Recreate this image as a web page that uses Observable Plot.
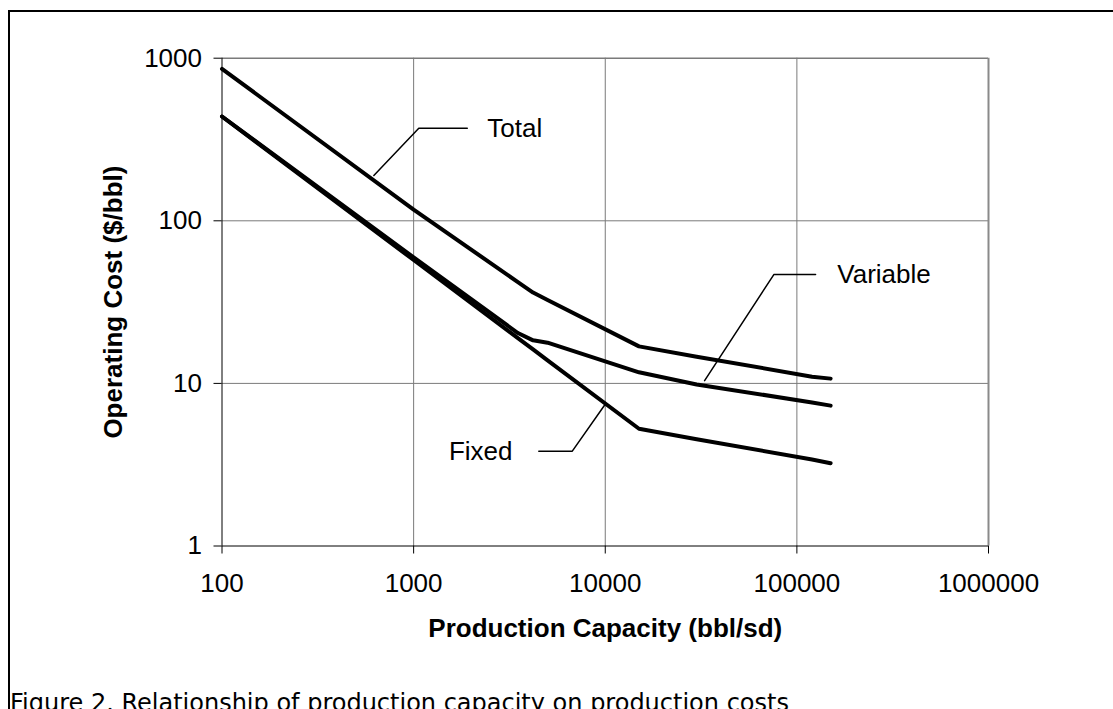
<!DOCTYPE html>
<html>
<head>
<meta charset="utf-8">
<script src="https://cdn.jsdelivr.net/npm/d3@7"></script>
<script src="https://cdn.jsdelivr.net/npm/@observablehq/plot@0.6"></script>
<style>
  html, body { margin: 0; padding: 0; background: #fff; width: 1113px; height: 709px; overflow: hidden; }
  #frame { position: absolute; left: 8px; top: 10px; width: 1300px; height: 900px; border-left: 2px solid #000; border-top: 2px solid #000; box-sizing: border-box; }
  #chart { position: absolute; left: 0; top: 0; }
  #caption { position: absolute; left: 10px; top: 691px; font-family: "DejaVu Sans", Verdana, sans-serif; font-size: 24px; line-height: 24px; white-space: nowrap; color: #000; }
</style>
</head>
<body>
<div id="frame"></div>
<div id="chart"></div>
<div id="caption">Figure 2. Relationship of production capacity on production costs</div>
<script>
// Data
const capacity     = [100, 1000, 3500, 4200, 5000, 15000, 30000, 120000, 150000];
const totalCost    = [860, 117, 42, 36.2, 32.6, 16.9, 14.6, 11.0, 10.7];
const variableCost = [438, 59.5, 20.4, 18.4, 17.8, 11.7, 9.85, 7.64, 7.3];
const fixedCost    = [438, 57.4, 19.0, 16.2, 13.85, 5.26, 4.54, 3.40, 3.23];

const xTicks = [100, 1000, 10000, 100000, 1000000];
const yTicks = [1, 10, 100, 1000];

// Annotation labels and leader-line anchor points (data space)
const labelNames  = ["Total", "Variable", "Fixed"];
const labelX      = [2422, 162500, 3280];
const labelY      = [371, 46.7, 3.83];
const labelAnchor = ["start", "start", "end"];
const leaderLineX = [[620, 1064, 1905], [33000, 75800, 125200], [10040, 6730, 4500]];
const leaderLineY = [[190, 371, 371], [10.4, 46.7, 46.7], [7.5, 3.83, 3.83]];

const series = [
  {name: "Total", values: totalCost},
  {name: "Variable", values: variableCost},
  {name: "Fixed", values: fixedCost}
];
const lineData = series.flatMap(s => capacity.map((c, i) => ({series: s.name, capacity: c, cost: s.values[i]})));
const leaderData = labelNames.flatMap((n, k) => leaderLineX[k].map((x, i) => ({name: n, x, y: leaderLineY[k][i]})));
const labelData = labelNames.map((n, k) => ({name: n, x: labelX[k], y: labelY[k], anchor: labelAnchor[k]}));

const W = 1113, H = 660;
const chart = Plot.plot({
  width: W,
  height: H,
  marginLeft: 221.5,
  marginRight: 125,
  marginTop: 57.7,
  marginBottom: H - 545.5,
  x: {type: "log", domain: [100, 1000000]},
  y: {type: "log", domain: [1, 1000]},
  style: {fontFamily: "'Liberation Sans', Arial, sans-serif", fontSize: "26px", background: "transparent", color: "#000", overflow: "visible"},
  marks: [
    Plot.gridX(xTicks.slice(1, -1), {stroke: "#7a7a7a", strokeOpacity: 1, strokeWidth: 1}),
    Plot.gridY(yTicks.slice(1, -1), {stroke: "#7a7a7a", strokeOpacity: 1, strokeWidth: 1}),
    Plot.ruleY([1000], {stroke: "#7a7a7a", strokeWidth: 1.5}),
    Plot.ruleX([1000000], {stroke: "#8a8a8a", strokeWidth: 2}),
    Plot.ruleX([100], {stroke: "#000", strokeWidth: 1}),
    Plot.ruleY([1], {stroke: "#000", strokeWidth: 1}),
    Plot.axisX(xTicks, {tickSize: 8, tickPadding: 20, tickFormat: d => String(d), fontSize: 26, label: null, stroke: "#000"}),
    Plot.axisY(yTicks, {tickSize: 8, tickPadding: 12, tickFormat: d => String(d), fontSize: 26, label: null, stroke: "#000"}),
    Plot.line(lineData, {x: "capacity", y: "cost", z: "series", stroke: "#000", strokeWidth: 4, strokeLinejoin: "round", strokeLinecap: "round"}),
    Plot.line(leaderData, {x: "x", y: "y", z: "name", stroke: "#000", strokeWidth: 1.5}),
    Plot.text(labelData.filter(d => d.anchor === "start"), {x: "x", y: "y", text: "name", textAnchor: "start", lineAnchor: "middle", fontSize: 26, fill: "#000"}),
    Plot.text(labelData.filter(d => d.anchor === "end"), {x: "x", y: "y", text: "name", textAnchor: "end", lineAnchor: "middle", fontSize: 26, fill: "#000"}),
    Plot.text(["Production Capacity (bbl/sd)"], {frameAnchor: "bottom", textAnchor: "middle", lineAnchor: "middle", dy: 83, fontWeight: "bold", fontSize: 26, fill: "#000"}),
    Plot.text(["Operating Cost ($/bbl)"], {frameAnchor: "left", textAnchor: "middle", lineAnchor: "middle", dx: -108, rotate: -90, fontWeight: "bold", fontSize: 26, fill: "#000"})
  ]
});
document.getElementById("chart").appendChild(chart);
</script>
</body>
</html>
